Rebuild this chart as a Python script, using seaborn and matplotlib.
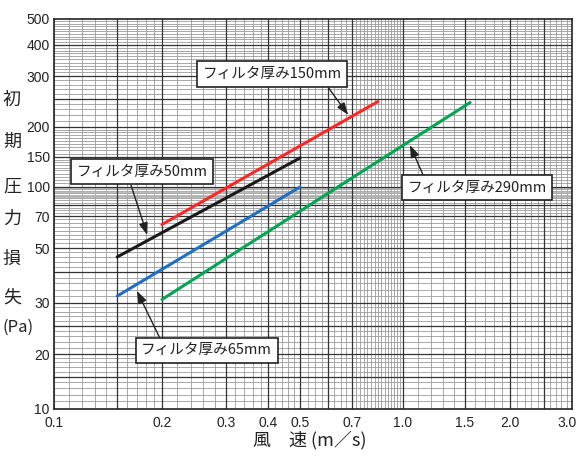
import numpy as np
import pandas as pd
import matplotlib
matplotlib.use('Agg')
import matplotlib.pyplot as plt
import matplotlib.transforms as mtransforms
import seaborn as sns

sns.set_style('white')
plt.rcParams['font.family'] = ['Liberation Sans', 'Noto Sans CJK JP']
JP = ['Noto Sans CJK JP', 'DejaVu Sans']

# data (air velocity m/s -> initial pressure loss Pa)
filters = ['50mm', '65mm', '150mm', '290mm']
v_50 = [0.15, 0.5]
p_50 = [46, 148]
v_65 = [0.15, 0.5]
p_65 = [32, 100]
v_150 = [0.2, 0.84]
p_150 = [64, 245]
v_290 = [0.2, 1.55]
p_290 = [31, 243]

x_ticks = [0.1, 0.2, 0.3, 0.4, 0.5, 0.7, 1.0, 1.5, 2.0, 3.0]
x_ticklabels = ['0.1', '0.2', '0.3', '0.4', '0.5', '0.7', '1.0', '1.5', '2.0', '3.0']
y_ticks = [10, 20, 30, 50, 70, 100, 150, 200, 300, 400, 500]
y_ticklabels = [str(t) for t in y_ticks]

df = pd.concat([
    pd.DataFrame({'v': v_50, 'p': p_50, 'f': '50mm'}),
    pd.DataFrame({'v': v_65, 'p': p_65, 'f': '65mm'}),
    pd.DataFrame({'v': v_150, 'p': p_150, 'f': '150mm'}),
    pd.DataFrame({'v': v_290, 'p': p_290, 'f': '290mm'}),
])
palette = {'50mm': '#1a1a1a', '65mm': '#1f6fc4', '150mm': '#ff2626', '290mm': '#00a651'}


# the printed chart paper is not an exact log grid, so map log values
# through the tick positions of the original sheet
def paper_scale(knots, pos):
    lv = np.log10(knots)
    p = np.asarray(pos, float)
    lv = np.concatenate([[lv[0] - 5], lv, [lv[-1] + 5]])
    s0 = (p[1] - p[0]) / (lv[2] - lv[1])
    s1 = (p[-1] - p[-2]) / (lv[-2] - lv[-3])
    p = np.concatenate([[p[0] - 5 * s0], p, [p[-1] + 5 * s1]])

    def fwd(v):
        v = np.clip(np.asarray(v, float), 1e-9, None)
        return np.interp(np.log10(v), lv, p)

    def inv(q):
        return 10 ** np.interp(np.asarray(q, float), p, lv)
    return fwd, inv


x_px = [54, 162, 226, 268, 300, 352, 403, 465, 510, 572]
y_px = [409, 354, 303, 248, 216, 187, 157, 127, 76, 45, 19]

fig = plt.figure(figsize=(5.79, 4.57), dpi=100)
ax = fig.add_axes([54 / 579, 48 / 457, 518 / 579, 390 / 457])

ax.set_xscale('function', functions=paper_scale(x_ticks, x_px))
ax.set_yscale('function', functions=paper_scale(y_ticks, [409 - p for p in y_px]))
ax.set_xlim(0.1, 3.0)
ax.set_ylim(10, 500)

# grid of the chart paper
x_minor = np.concatenate([np.arange(0.10, 0.2, 0.01), np.arange(0.2, 0.5, 0.02),
                          np.arange(0.5, 0.7, 0.025), np.arange(0.7, 1.0, 0.02),
                          np.arange(1.0, 3.0, 0.1)])
y_minor = np.concatenate([np.arange(10, 30, 1), np.arange(30, 50, 2), np.arange(50, 100, 2.5),
                          np.arange(100, 200, 5), np.arange(200, 500, 10)])
y_band = np.arange(88, 100, 1.5)
x_major = [0.15, 0.2, 0.3, 0.4, 0.5, 0.6, 0.7, 1.0, 1.5, 2.0, 2.5]
y_major = [15, 20, 25, 30, 40, 50, 70, 80, 100, 150, 200, 250, 300, 400]
for xv in x_minor:
    ax.axvline(xv, color='#9a9a9a', lw=0.6, zorder=0)
for yv in y_minor:
    ax.axhline(yv, color='#9a9a9a', lw=0.6, zorder=0)
for yv in y_band:
    ax.axhline(yv, color='#b0b0b0', lw=0.6, zorder=0)
for xv in x_major:
    ax.axvline(xv, color='#333333', lw=0.9, zorder=0.5)
for yv in y_major:
    ax.axhline(yv, color='#333333', lw=0.9, zorder=0.5)

sns.lineplot(data=df, x='v', y='p', hue='f', palette=palette, lw=2.2,
             legend=False, ax=ax, zorder=3, sort=False, estimator=None, units='f')

ax.set_xticks(x_ticks)
ax.set_xticklabels(x_ticklabels)
ax.set_yticks(y_ticks)
ax.set_yticklabels(y_ticklabels)
ax.minorticks_off()
ax.tick_params(length=0, labelsize=10, colors='#222222')
ax.tick_params(axis='x', pad=5)
ax.tick_params(axis='y', pad=3)
ax.set_xlabel('')
ax.set_ylabel('')
for s in ax.spines.values():
    s.set_color('#222222')
    s.set_linewidth(1.2)

# keep the last x label inside the figure
last = ax.get_xticklabels()[-1]
last.set_ha('right')
last.set_transform(last.get_transform() + mtransforms.ScaledTranslation(5 / 100, 0, fig.dpi_scale_trans))

# labels with arrows
notes = [
    ('フィルタ厚み150mm', (0.421, 0.859), (0.568, 0.754), (0.87, 0.0)),
    ('フィルタ厚み50mm', (0.170, 0.608), (0.180, 0.446), (0.40, 0.0)),
    ('フィルタ厚み65mm', (0.295, 0.151), (0.160, 0.303), (0.16, 1.0)),
    ('フィルタ厚み290mm', (0.817, 0.567), (0.687, 0.677), (0.13, 1.0)),
]
for txt, pos, tip, rel in notes:
    ax.annotate(txt, xy=tip, xytext=pos, xycoords='axes fraction', textcoords='axes fraction',
                ha='center', va='center', fontsize=10.5, family=JP, color='#222222', zorder=5,
                bbox=dict(boxstyle='square,pad=0.38', fc='white', ec='#222222', lw=1.2),
                arrowprops=dict(arrowstyle='-|>,head_length=0.7,head_width=0.25', color='#222222',
                                lw=1.0, shrinkA=0, shrinkB=0, relpos=rel))

# axis titles
ylab = ['初', '期', '圧', '力', '損', '失']
ylab_px = [100, 142, 186, 219, 259, 298]
for ch, py in zip(ylab, ylab_px):
    fig.text(12 / 579, 1 - py / 457, ch, ha='center', va='center', fontsize=13, family=JP, color='#222222')
fig.text(2 / 579, 1 - 327 / 457, '(Pa)', ha='left', va='center', fontsize=12, family=JP, color='#222222')
fig.text(310 / 579, 1 - 440 / 457, '風　速 (m／s)', ha='center', va='center', fontsize=13,
         family=JP, color='#222222')

fig.savefig('out.png', dpi=100)
